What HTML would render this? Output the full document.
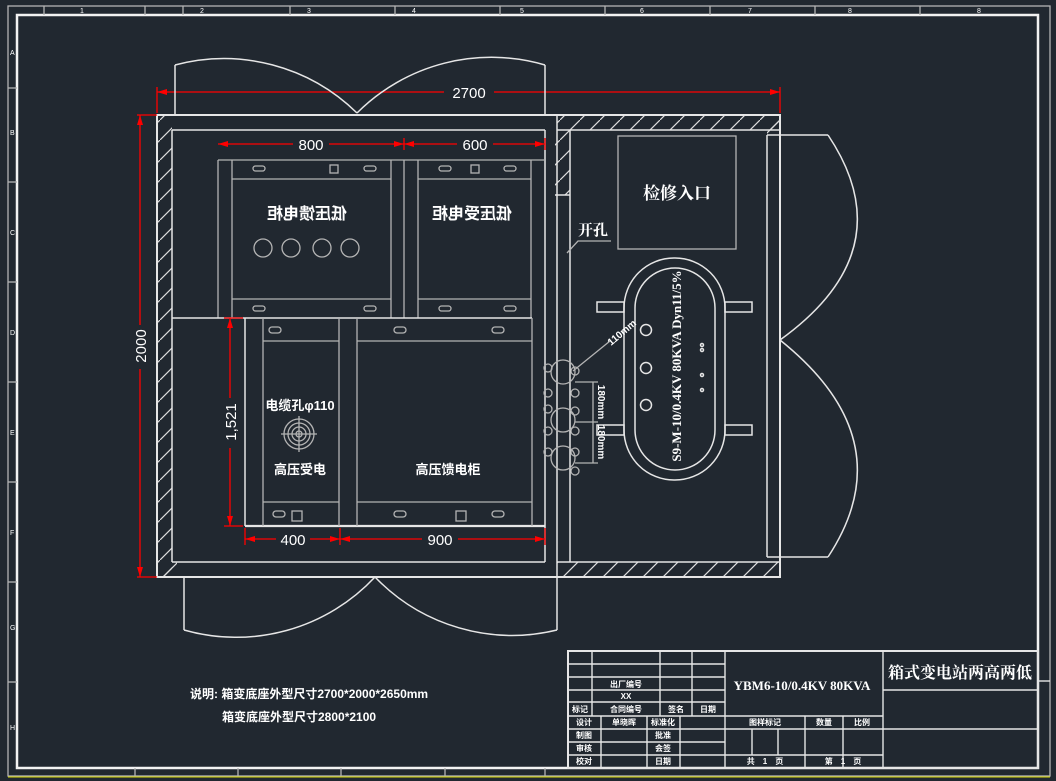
<!DOCTYPE html>
<html><head><meta charset="utf-8"><style>
html,body{margin:0;padding:0;background:#212830;}
svg{display:block}
text{font-family:"Liberation Sans","Noto Sans CJK SC",sans-serif;fill:#fff}
.w{stroke:#e6e6e6;fill:none;stroke-width:1.5}
.g{stroke:#b4b4b4;fill:none;stroke-width:1.3}
.r{stroke:#f00;fill:none;stroke-width:1.3}
.cj{font-family:"Liberation Serif","Noto Serif CJK SC",serif;font-weight:bold}
</style></head><body>
<svg width="1056" height="781" viewBox="0 0 1056 781" xmlns="http://www.w3.org/2000/svg">
<defs>
<pattern id="h" patternUnits="userSpaceOnUse" width="20" height="20">
<path d="M-2,22 L22,-2" stroke="#ddd" stroke-width="1.2"/>
</pattern>
<marker id="a" viewBox="0 0 10 6" refX="10" refY="3" markerWidth="10" markerHeight="6" orient="auto-start-reverse" markerUnits="userSpaceOnUse"><path d="M0,0L10,3L0,6z" fill="#f00"/></marker>
</defs>
<rect width="1056" height="781" fill="#212830"/>
<rect x="8" y="6" width="1042" height="770" class="g"/>
<rect x="17" y="15" width="1021" height="753" stroke="#f2f2f2" stroke-width="2.5" fill="none"/>
<line x1="8" y1="777" x2="1050" y2="777" stroke="#d8d800" stroke-width="1"/>
<g class="g">
<line x1="44" y1="6" x2="44" y2="15"/><line x1="145" y1="6" x2="145" y2="15"/><line x1="183" y1="6" x2="183" y2="15"/>
<line x1="290" y1="6" x2="290" y2="15"/><line x1="395" y1="6" x2="395" y2="15"/><line x1="500" y1="6" x2="500" y2="15"/>
<line x1="605" y1="6" x2="605" y2="15"/><line x1="710" y1="6" x2="710" y2="15"/><line x1="815" y1="6" x2="815" y2="15"/><line x1="920" y1="6" x2="920" y2="15"/>
<line x1="135" y1="768" x2="135" y2="776"/><line x1="238" y1="768" x2="238" y2="776"/><line x1="341" y1="768" x2="341" y2="776"/><line x1="445" y1="768" x2="445" y2="776"/><line x1="545" y1="768" x2="545" y2="776"/>
<line x1="8" y1="88" x2="17" y2="88"/><line x1="8" y1="182" x2="17" y2="182"/><line x1="8" y1="282" x2="17" y2="282"/><line x1="8" y1="382" x2="17" y2="382"/><line x1="8" y1="482" x2="17" y2="482"/><line x1="8" y1="582" x2="17" y2="582"/><line x1="8" y1="682" x2="17" y2="682"/>
</g>
<g font-size="7" fill="#ccc">
<text x="80" y="13">1</text><text x="200" y="13">2</text><text x="307" y="13">3</text><text x="412" y="13">4</text><text x="520" y="13">5</text><text x="640" y="13">6</text><text x="748" y="13">7</text><text x="848" y="13">8</text><text x="977" y="13">8</text>
<text x="10" y="55">A</text><text x="10" y="135">B</text><text x="10" y="235">C</text><text x="10" y="335">D</text><text x="10" y="435">E</text><text x="10" y="535">F</text><text x="10" y="630">G</text><text x="10" y="730">H</text>
</g>

<rect x="157" y="115" width="15" height="462" fill="url(#h)"/>
<rect x="557" y="115" width="223" height="15" fill="url(#h)"/>
<rect x="557" y="562" width="223" height="15" fill="url(#h)"/>
<rect x="555" y="130" width="15" height="65" fill="url(#h)"/>
<rect x="767" y="115" width="13" height="20" fill="url(#h)"/>
<rect x="157" y="562" width="20" height="15" fill="url(#h)"/>
<g class="w">
<rect x="157" y="115" width="623" height="462" stroke-width="2"/>
<line x1="172" y1="130" x2="545" y2="130"/>
<line x1="172" y1="130" x2="172" y2="562"/>
<line x1="172" y1="562" x2="545" y2="562"/>
<line x1="545" y1="130" x2="545" y2="562"/>
<line x1="557" y1="130" x2="780" y2="130"/>
<line x1="557" y1="562" x2="780" y2="562"/>
<line x1="557" y1="115" x2="557" y2="577"/>
<line x1="570" y1="130" x2="570" y2="562"/>
<line x1="767" y1="135" x2="767" y2="557"/>
<line x1="555" y1="195" x2="570" y2="195"/>
</g>
<g class="g">
<line x1="218" y1="160" x2="545" y2="160"/>
<line x1="218" y1="160" x2="218" y2="318"/>
<line x1="404" y1="160" x2="404" y2="318"/>
<line x1="232" y1="160" x2="232" y2="318"/><line x1="391" y1="160" x2="391" y2="318"/>
<line x1="418" y1="160" x2="418" y2="318"/><line x1="531" y1="160" x2="531" y2="318"/>
<line x1="232" y1="179" x2="391" y2="179"/><line x1="232" y1="299" x2="391" y2="299"/>
<line x1="418" y1="179" x2="531" y2="179"/><line x1="418" y1="299" x2="531" y2="299"/>
<rect x="253" y="166" width="12" height="5" rx="2.5"/><rect x="364" y="166" width="12" height="5" rx="2.5"/><rect x="330" y="165" width="8" height="8"/>
<rect x="439" y="166" width="12" height="5" rx="2.5"/><rect x="504" y="166" width="12" height="5" rx="2.5"/><rect x="471" y="165" width="8" height="8"/>
<rect x="253" y="306" width="12" height="5" rx="2.5"/><rect x="364" y="306" width="12" height="5" rx="2.5"/>
<rect x="439" y="306" width="12" height="5" rx="2.5"/><rect x="504" y="306" width="12" height="5" rx="2.5"/>
<circle cx="263" cy="248" r="9"/><circle cx="291" cy="248" r="9"/><circle cx="322" cy="248" r="9"/><circle cx="350" cy="248" r="9"/>
</g>
<g class="cj" font-size="16">
<text transform="translate(307,219) scale(-1,1)" text-anchor="middle">低压馈电柜</text>
<text transform="translate(472,219) scale(-1,1)" text-anchor="middle">低压受电柜</text>
</g>
<g class="w">
<line x1="172" y1="318" x2="532" y2="318"/>
<line x1="245" y1="318" x2="245" y2="526"/>
<line x1="245" y1="526" x2="545" y2="526" stroke-width="2.2"/>
</g>
<g class="g">
<line x1="263" y1="318" x2="263" y2="526"/><line x1="339" y1="318" x2="339" y2="526"/>
<line x1="357" y1="318" x2="357" y2="526"/><line x1="532" y1="318" x2="532" y2="526"/>
<line x1="263" y1="341" x2="339" y2="341"/><line x1="263" y1="502" x2="339" y2="502"/>
<line x1="357" y1="341" x2="532" y2="341"/><line x1="357" y1="502" x2="532" y2="502"/>
<rect x="269" y="327" width="12" height="6" rx="3"/><rect x="394" y="327" width="12" height="6" rx="3"/><rect x="492" y="327" width="12" height="6" rx="3"/>
<rect x="273" y="511" width="12" height="6" rx="3"/><rect x="394" y="511" width="12" height="6" rx="3"/><rect x="492" y="511" width="12" height="6" rx="3"/>
<rect x="292" y="511" width="10" height="10"/><rect x="456" y="511" width="10" height="10"/>
<circle cx="299" cy="434" r="15"/><circle cx="299" cy="434" r="11"/><circle cx="299" cy="434" r="7"/><circle cx="299" cy="434" r="3"/>
<line x1="281" y1="434" x2="317" y2="434"/><line x1="299" y1="416" x2="299" y2="452"/>
</g>
<g class="cj" font-size="13">
<text x="300" y="410" text-anchor="middle">电缆孔φ110</text>
<text x="300" y="474" text-anchor="middle">高压受电</text>
<text x="448" y="474" text-anchor="middle">高压馈电柜</text>
</g>
<g class="r">
<line x1="157" y1="92" x2="780" y2="92" marker-start="url(#a)" marker-end="url(#a)"/>
<line x1="157" y1="87" x2="157" y2="113"/><line x1="780" y1="87" x2="780" y2="113"/>
<line x1="140" y1="115" x2="140" y2="577" marker-start="url(#a)" marker-end="url(#a)"/>
<line x1="137" y1="115" x2="157" y2="115"/><line x1="137" y1="577" x2="157" y2="577"/>
<line x1="218" y1="144" x2="404" y2="144" marker-start="url(#a)" marker-end="url(#a)"/>
<line x1="404" y1="144" x2="545" y2="144" marker-start="url(#a)" marker-end="url(#a)"/>
<line x1="404" y1="138" x2="404" y2="150"/><line x1="545" y1="138" x2="545" y2="150"/>
<line x1="230" y1="318" x2="230" y2="526" marker-start="url(#a)" marker-end="url(#a)"/>
<line x1="224" y1="318" x2="243" y2="318"/><line x1="224" y1="526" x2="243" y2="526"/>
<line x1="245" y1="539" x2="340" y2="539" marker-start="url(#a)" marker-end="url(#a)"/>
<line x1="340" y1="539" x2="545" y2="539" marker-start="url(#a)" marker-end="url(#a)"/>
<line x1="245" y1="528" x2="245" y2="545"/><line x1="340" y1="528" x2="340" y2="545"/><line x1="545" y1="528" x2="545" y2="545"/>
</g>
<g font-size="15" fill="#ddd">
<rect x="444" y="84" width="50" height="16" fill="#212830"/>
<text x="469" y="98" text-anchor="middle">2700</text>
<rect x="293" y="137" width="36" height="14" fill="#212830"/><text x="311" y="150" text-anchor="middle">800</text>
<rect x="457" y="137" width="36" height="14" fill="#212830"/><text x="475" y="150" text-anchor="middle">600</text>
<rect x="276" y="532" width="34" height="14" fill="#212830"/><text x="293" y="545" text-anchor="middle">400</text>
<rect x="422" y="532" width="36" height="14" fill="#212830"/><text x="440" y="545" text-anchor="middle">900</text>
<rect x="133" y="325" width="14" height="44" fill="#212830"/><text transform="translate(146,346) rotate(-90)" text-anchor="middle">2000</text>
<rect x="223" y="398" width="14" height="50" fill="#212830"/><text transform="translate(236,422) rotate(-90)" text-anchor="middle">1,521</text>
</g>
<g class="w" stroke-width="1.3">
<line x1="175" y1="115" x2="175" y2="65"/><path d="M175,65 A190,190 0 0 1 357,113"/>
<line x1="545" y1="115" x2="545" y2="65"/><path d="M545,65 A190,190 0 0 0 357,113"/>
<line x1="184" y1="577" x2="184" y2="630"/><path d="M184,630 A190,190 0 0 0 375,577"/>
<line x1="557" y1="577" x2="557" y2="630"/><path d="M557,630 A190,190 0 0 1 375,577"/>
<line x1="767" y1="135" x2="828" y2="135"/><path d="M828,135 Q905,250 780,340"/>
<line x1="767" y1="557" x2="828" y2="557"/><path d="M828,557 Q905,440 780,340"/>
</g>
<rect x="618" y="136" width="118" height="113" class="g"/>
<text x="677" y="199" text-anchor="middle" class="cj" font-size="17">检修入口</text>
<text x="578" y="235" class="cj" font-size="15">开孔</text>
<path d="M567,253 L578,241 L611,241" class="g"/>
<g class="w">
<rect x="624" y="258" width="101" height="222" rx="50"/>
<rect x="635" y="268" width="80" height="202" rx="40"/>
<rect x="597" y="302" width="27" height="10"/><rect x="725" y="302" width="27" height="10"/>
<rect x="597" y="425" width="27" height="10"/><rect x="725" y="425" width="27" height="10"/>
<circle cx="646" cy="330" r="5.5"/><circle cx="646" cy="368" r="5.5"/><circle cx="646" cy="405" r="5.5"/>
<circle cx="702" cy="345" r="1.5"/><circle cx="702" cy="350" r="1.5"/><circle cx="702" cy="375" r="1.5"/><circle cx="702" cy="390" r="1.5"/>
</g>
<text transform="translate(681,366) rotate(-90)" text-anchor="middle" class="cj" font-size="13">S9-M-10/0.4KV 80KVA Dyn11/5%</text>
<g class="g">
<circle cx="563" cy="372" r="12"/><circle cx="563" cy="420" r="12"/><circle cx="563" cy="458" r="12"/>
<circle cx="548" cy="368" r="4"/><circle cx="548" cy="393" r="4"/><circle cx="575" cy="371" r="4"/><circle cx="575" cy="393" r="4"/>
<circle cx="548" cy="409" r="4"/><circle cx="548" cy="431" r="4"/><circle cx="575" cy="411" r="4"/><circle cx="575" cy="431" r="4"/>
<circle cx="548" cy="452" r="4"/><circle cx="575" cy="452" r="4"/><circle cx="575" cy="471" r="4"/>
<line x1="573" y1="371" x2="610" y2="341"/>
<line x1="593" y1="382" x2="593" y2="463"/>
<line x1="575" y1="382" x2="598" y2="382"/><line x1="575" y1="422" x2="598" y2="422"/><line x1="575" y1="463" x2="598" y2="463"/>
</g>
<g class="cj" font-size="10">
<text transform="translate(611,346) rotate(-40)">110mm</text>
<text transform="translate(598,402) rotate(90)" text-anchor="middle">180mm</text>
<text transform="translate(598,442) rotate(90)" text-anchor="middle">180mm</text>
</g>
<g class="cj" font-size="12">
<text x="190" y="698">说明: 箱变底座外型尺寸2700*2000*2650mm</text>
<text x="222" y="721">箱变底座外型尺寸2800*2100</text>
</g>
<g stroke="#e6e6e6" stroke-width="1.4" fill="none">
<rect x="568" y="651" width="470" height="117" stroke-width="2"/>
<line x1="725" y1="651" x2="725" y2="768"/><line x1="883" y1="651" x2="883" y2="768"/>
<line x1="568" y1="664" x2="725" y2="664"/><line x1="568" y1="677" x2="725" y2="677"/><line x1="568" y1="690" x2="725" y2="690"/><line x1="568" y1="702" x2="725" y2="702"/>
<line x1="568" y1="716" x2="883" y2="716"/><line x1="568" y1="729" x2="1038" y2="729"/><line x1="568" y1="742" x2="725" y2="742"/><line x1="568" y1="755" x2="883" y2="755"/>
<line x1="883" y1="690" x2="1038" y2="690"/>
<line x1="592" y1="651" x2="592" y2="716"/><line x1="660" y1="651" x2="660" y2="716"/><line x1="692" y1="651" x2="692" y2="716"/>
<line x1="601" y1="716" x2="601" y2="768"/><line x1="647" y1="716" x2="647" y2="768"/><line x1="680" y1="716" x2="680" y2="768"/>
<line x1="805" y1="716" x2="805" y2="768"/><line x1="843" y1="716" x2="843" y2="768"/>
<line x1="752" y1="729" x2="752" y2="755"/><line x1="778" y1="729" x2="778" y2="755"/>
<line x1="1038" y1="681" x2="1050" y2="681"/>
</g>
<g class="cj" font-size="8" text-anchor="middle">
<text x="626" y="687">出厂编号</text><text x="626" y="699">XX</text>
<text x="580" y="712">标记</text><text x="626" y="712">合同编号</text><text x="676" y="712">签名</text><text x="708" y="712">日期</text>
<text x="584" y="725">设计</text><text x="624" y="725">单晓晖</text><text x="663" y="725">标准化</text>
<text x="584" y="738">制图</text><text x="663" y="738">批准</text>
<text x="584" y="751">审核</text><text x="663" y="751">会签</text>
<text x="584" y="764">校对</text><text x="663" y="764">日期</text>
<text x="765" y="725">图样标记</text><text x="824" y="725">数量</text><text x="862" y="725">比例</text>
<text x="765" y="764">共　1　页</text><text x="843" y="764">第　1　页</text>
</g>
<text x="802" y="690" text-anchor="middle" class="cj" font-size="13">YBM6-10/0.4KV 80KVA</text>
<text x="960" y="678" text-anchor="middle" class="cj" font-size="16">箱式变电站两高两低</text>
</svg>
</body></html>
